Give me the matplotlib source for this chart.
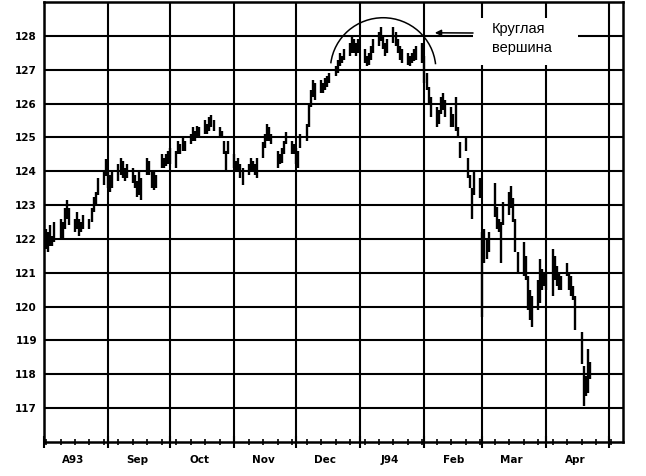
import numpy as np
import pandas as pd
import matplotlib
matplotlib.use("Agg")
import matplotlib.pyplot as plt
import matplotlib.dates as mdates
import matplotlib.transforms as mtransforms
from matplotlib.patches import Arc, Rectangle

# ── Daily (high, low) bars ──────────────────────────────────────────────────
bars_aug = [(122.3, 121.7), (122.2, 121.6), (122.4, 121.8), (122.1, 121.8), (122.5, 121.9),
            (122.6, 122.0), (122.5, 122.0), (122.9, 122.3), (123.15, 122.6), (122.9, 122.4),
            (122.6, 122.2), (122.8, 122.3), (122.6, 122.1), (122.5, 122.2), (122.7, 122.3),
            (122.6, 122.3), (122.9, 122.5), (123.25, 122.8), (123.4, 123.0), (123.8, 123.3),
            (124.0, 123.6), (124.35, 123.85)]
bars_sep = [(124.0, 123.5), (123.9, 123.4), (124.0, 123.5), (124.2, 123.7), (124.4, 123.9),
            (124.3, 123.8), (124.1, 123.7), (124.2, 123.8), (124.1, 123.65), (123.9, 123.5),
            (123.7, 123.25), (124.0, 123.3), (123.8, 123.15), (124.4, 123.9), (124.3, 123.9),
            (124.05, 123.5), (124.0, 123.45), (123.9, 123.5), (124.5, 124.1), (124.4, 124.1),
            (124.5, 124.15), (124.6, 124.2)]
bars_oct = [(124.7, 124.2), (124.6, 124.1), (124.9, 124.5), (124.8, 124.5), (125.0, 124.6),
            (124.9, 124.6), (125.1, 124.8), (125.3, 124.9), (125.2, 124.9), (125.35, 125.0),
            (125.3, 125.0), (125.5, 125.1), (125.4, 125.1), (125.6, 125.2), (125.65, 125.3),
            (125.5, 125.2), (125.3, 125.0), (125.2, 125.0), (124.9, 124.5), (124.6, 124.0),
            (124.9, 124.5)]
bars_nov = [(124.5, 124.1), (124.3, 124.0), (124.4, 124.0), (124.2, 123.8), (124.1, 123.6),
            (124.2, 123.9), (124.4, 124.0), (124.3, 124.0), (124.2, 123.9), (124.4, 123.8),
            (124.85, 124.4), (125.1, 124.7), (125.4, 124.9), (125.3, 124.9), (125.1, 124.8),
            (124.6, 124.1), (124.5, 124.2), (124.7, 124.25), (124.9, 124.5), (125.15, 124.8),
            (124.9, 124.5), (124.8, 124.5)]
bars_dec = [(124.7, 124.2), (124.6, 124.1), (125.1, 124.7), (125.4, 124.9), (126.0, 125.3),
            (126.4, 125.9), (126.7, 126.2), (126.6, 126.1), (126.7, 126.3), (126.6, 126.3),
            (126.75, 126.4), (126.8, 126.5), (126.9, 126.6), (127.1, 126.8), (127.3, 126.9),
            (127.5, 127.1), (127.4, 127.2), (127.6, 127.3), (127.8, 127.4), (128.0, 127.5),
            (127.9, 127.5), (127.8, 127.4), (127.9, 127.5)]
bars_jan = [(127.6, 127.2), (127.4, 127.1), (127.5, 127.15), (127.7, 127.3), (127.9, 127.5),
            (128.1, 127.7), (128.25, 127.85), (128.0, 127.6), (127.8, 127.4), (127.9, 127.5),
            (128.25, 127.8), (128.1, 127.7), (127.9, 127.5), (127.7, 127.3), (127.6, 127.2),
            (127.5, 127.15), (127.4, 127.1), (127.5, 127.2), (127.6, 127.25), (127.7, 127.3),
            (127.8, 127.2)]
bars_feb = [(127.4, 126.6), (126.9, 126.4), (126.5, 126.0), (126.2, 125.6), (125.9, 125.3),
            (125.8, 125.4), (126.2, 125.7), (126.3, 125.8), (126.1, 125.6), (125.9, 125.3),
            (125.7, 125.3), (126.2, 125.2), (125.3, 125.0), (124.85, 124.4), (125.0, 124.6),
            (124.4, 123.8), (123.9, 123.5), (123.5, 122.6), (124.0, 123.3), (123.8, 123.2)]
bars_mar = [(122.2, 119.7), (122.3, 121.3), (122.0, 121.4), (122.2, 121.6), (123.65, 122.65),
            (122.95, 122.3), (122.6, 122.2), (122.5, 121.3), (123.1, 122.4), (123.4, 122.7),
            (123.55, 122.9), (123.2, 122.5), (122.6, 121.6), (121.6, 121.0), (121.9, 120.9),
            (121.5, 120.8), (120.9, 119.9), (120.5, 119.6), (120.3, 119.4), (120.8, 119.9),
            (121.4, 120.1), (121.1, 120.5), (121.0, 120.6)]
bars_apr = [(121.0, 120.5), (121.7, 120.3), (121.5, 120.8), (121.2, 120.6), (121.0, 120.5),
            (120.9, 120.5), (121.3, 120.9), (121.0, 120.5), (120.9, 120.3), (120.6, 120.2),
            (120.3, 119.3), (119.25, 118.3), (118.25, 117.05), (117.95, 117.35), (118.75, 117.45),
            (118.35, 117.85)]

month_labels = ["A93", "Sep", "Oct", "Nov", "Dec", "J94", "Feb", "Mar", "Apr"]
y_ticks = list(range(117, 129))
note_text = "Круглая\nвершина"

# ─────────────────────────────────────────────────────────────────────────────
bars = (bars_aug + bars_sep + bars_oct + bars_nov + bars_dec
        + bars_jan + bars_feb + bars_mar + bars_apr)
dates = pd.bdate_range("1993-08-02", "1994-04-22")
high = [b[0] for b in bars]
low = [b[1] for b in bars]

fig = plt.figure(figsize=(6.46, 4.76), dpi=100)
ax = fig.add_axes([44 / 646, 34 / 476, 579 / 646, 440 / 476])

ax.vlines(dates, low, high, color="black", linewidth=1.7, zorder=2)

ax.set_xlim(pd.Timestamp("1993-08-01"), pd.Timestamp("1994-05-08"))
ax.set_ylim(116, 129)

# grid: month lines and whole-number price lines
ax.xaxis.set_major_locator(mdates.MonthLocator())
ax.xaxis.set_minor_locator(mdates.WeekdayLocator(byweekday=mdates.MO))
ax.xaxis.set_major_formatter(plt.NullFormatter())
ax.set_yticks(y_ticks)
ax.grid(True, which="major", color="black", linewidth=1.5)
ax.set_axisbelow(True)
ax.tick_params(axis="x", which="major", direction="inout", length=8, width=1.5)
ax.tick_params(axis="x", which="minor", direction="inout", length=4, width=1.2)
ax.tick_params(axis="y", length=0, pad=5)
for lbl in ax.get_yticklabels():
    lbl.set_fontweight("bold")
    lbl.set_fontsize(7.5)
for sp in ax.spines.values():
    sp.set_linewidth(1.8)

# month labels centred in each month
trans = mtransforms.blended_transform_factory(ax.transData, ax.transAxes)
mids = pd.date_range("1993-08-01", periods=len(month_labels), freq="MS") + pd.Timedelta(days=14)
for d, lab in zip(mids, month_labels):
    ax.text(d, -0.041, lab, transform=trans, ha="center", va="center",
            fontsize=7.5, fontweight="bold")

# rounded top marker (Arc angles are geometric, so convert from parametric)
arc_w, arc_h = 51.0, 3.07
t1, t2 = np.radians(6), np.radians(173)
g1 = np.degrees(np.arctan2(arc_h * np.sin(t1), arc_w * np.cos(t1)))
g2 = np.degrees(np.arctan2(arc_h * np.sin(t2), arc_w * np.cos(t2)))
arc_center = mdates.date2num(pd.Timestamp("1994-01-12"))
ax.add_patch(Arc((arc_center, 127.0), width=arc_w, height=arc_h,
                 theta1=g1, theta2=g2, color="black", linewidth=1.1, zorder=4))

# label box with arrow
ax.add_patch(Rectangle((0.741, 0.857), 0.181, 0.107, transform=ax.transAxes,
                       facecolor="white", edgecolor="none", zorder=3))
ax.text(0.774, 0.918, note_text, transform=ax.transAxes, ha="left", va="center",
        fontsize=10.5, family="Liberation Sans", linespacing=1.45, zorder=5)
ax.annotate("", xy=(pd.Timestamp("1994-02-06"), 128.09),
            xytext=(0.741, (442 - 33) / 440), textcoords="axes fraction",
            arrowprops=dict(arrowstyle="-|>", color="black", lw=1.1,
                            mutation_scale=9, shrinkA=0, shrinkB=0),
            zorder=5)

fig.savefig("out.png", dpi=100, facecolor="white")
